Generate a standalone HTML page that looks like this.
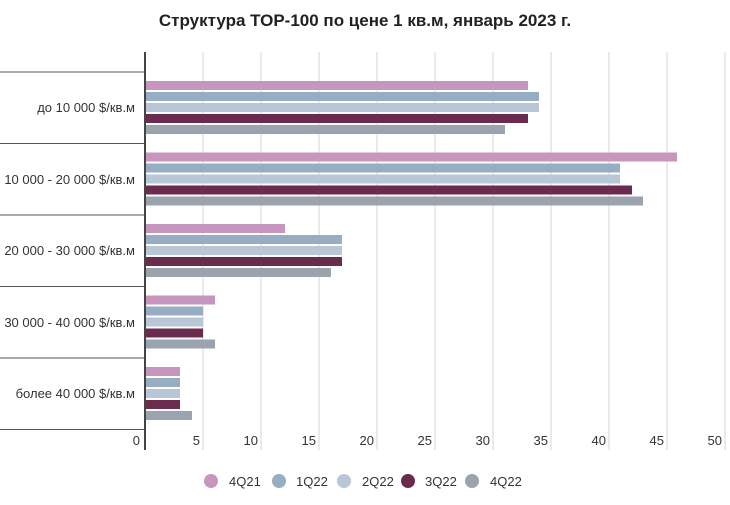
<!DOCTYPE html>
<html><head><meta charset="utf-8"><style>
body{margin:0;background:#fff;}
svg{display:block;font-family:"Liberation Sans",sans-serif;}
</style></head><body>
<svg width="730" height="505" xmlns="http://www.w3.org/2000/svg">
<text x="365" y="26" text-anchor="middle" font-size="17" font-weight="bold" fill="#222">Структура ТОР-100 по цене 1 кв.м, январь 2023 г.</text>
<g stroke="#e3e3e3" stroke-width="1.5">
<line x1="203" y1="52" x2="203" y2="450"/><line x1="261" y1="52" x2="261" y2="450"/><line x1="319" y1="52" x2="319" y2="450"/><line x1="377" y1="52" x2="377" y2="450"/><line x1="435" y1="52" x2="435" y2="450"/><line x1="493" y1="52" x2="493" y2="450"/><line x1="551" y1="52" x2="551" y2="450"/><line x1="609" y1="52" x2="609" y2="450"/><line x1="667" y1="52" x2="667" y2="450"/><line x1="725" y1="52" x2="725" y2="450"/>
</g>
<g stroke="#555" stroke-width="1">
<line x1="0" y1="72" x2="145" y2="72"/><line x1="0" y1="143.5" x2="145" y2="143.5"/><line x1="0" y1="215" x2="145" y2="215"/><line x1="0" y1="286.5" x2="145" y2="286.5"/><line x1="0" y1="358" x2="145" y2="358"/><line x1="0" y1="429.5" x2="145" y2="429.5"/>
</g>
<line x1="145" y1="52" x2="145" y2="450" stroke="#444" stroke-width="2"/>
<g font-size="13" fill="#333" text-anchor="end">
<text x="135" y="112">до 10 000 $/кв.м</text>
<text x="135" y="184">10 000 - 20 000 $/кв.м</text>
<text x="135" y="255">20 000 - 30 000 $/кв.м</text>
<text x="135" y="327">30 000 - 40 000 $/кв.м</text>
<text x="135" y="398">более 40 000 $/кв.м</text>
</g>
<g font-size="13" fill="#333" text-anchor="end">
<text x="140" y="445">0</text><text x="200" y="445">5</text><text x="258" y="445">10</text><text x="316" y="445">15</text><text x="374" y="445">20</text><text x="432" y="445">25</text><text x="490" y="445">30</text><text x="548" y="445">35</text><text x="606" y="445">40</text><text x="664" y="445">45</text><text x="722" y="445">50</text>
</g>
<g id="bars"></g>
<g>
<circle cx="211" cy="481" r="7" fill="#c796bf"/><text x="229" y="486" font-size="13" fill="#333">4Q21</text>
<circle cx="279" cy="481" r="7" fill="#97adc3"/><text x="296" y="486" font-size="13" fill="#333">1Q22</text>
<circle cx="344" cy="481" r="7" fill="#b8c7d6"/><text x="362" y="486" font-size="13" fill="#333">2Q22</text>
<circle cx="408" cy="481" r="7" fill="#6b2b4f"/><text x="425" y="486" font-size="13" fill="#333">3Q22</text>
<circle cx="472" cy="481" r="7" fill="#9aa3ae"/><text x="490" y="486" font-size="13" fill="#333">4Q22</text>
</g>
<!-- bars -->
<g>
<rect x="146" y="81" width="382" height="9" fill="#c796bf"/>
<rect x="146" y="92" width="393" height="9" fill="#97adc3"/>
<rect x="146" y="103" width="393" height="9" fill="#b8c7d6"/>
<rect x="146" y="114" width="382" height="9" fill="#6b2b4f"/>
<rect x="146" y="125" width="359" height="9" fill="#9aa3ae"/>

<rect x="146" y="152.5" width="531" height="9" fill="#c796bf"/>
<rect x="146" y="163.5" width="474" height="9" fill="#97adc3"/>
<rect x="146" y="174.5" width="474" height="9" fill="#b8c7d6"/>
<rect x="146" y="185.5" width="486" height="9" fill="#6b2b4f"/>
<rect x="146" y="196.5" width="497" height="9" fill="#9aa3ae"/>

<rect x="146" y="224" width="139" height="9" fill="#c796bf"/>
<rect x="146" y="235" width="196" height="9" fill="#97adc3"/>
<rect x="146" y="246" width="196" height="9" fill="#b8c7d6"/>
<rect x="146" y="257" width="196" height="9" fill="#6b2b4f"/>
<rect x="146" y="268" width="185" height="9" fill="#9aa3ae"/>

<rect x="146" y="295.5" width="69" height="9" fill="#c796bf"/>
<rect x="146" y="306.5" width="57" height="9" fill="#97adc3"/>
<rect x="146" y="317.5" width="57" height="9" fill="#b8c7d6"/>
<rect x="146" y="328.5" width="57" height="9" fill="#6b2b4f"/>
<rect x="146" y="339.5" width="69" height="9" fill="#9aa3ae"/>

<rect x="146" y="367" width="34" height="9" fill="#c796bf"/>
<rect x="146" y="378" width="34" height="9" fill="#97adc3"/>
<rect x="146" y="389" width="34" height="9" fill="#b8c7d6"/>
<rect x="146" y="400" width="34" height="9" fill="#6b2b4f"/>
<rect x="146" y="411" width="46" height="9" fill="#9aa3ae"/>
</g>
</svg>
</body></html>
